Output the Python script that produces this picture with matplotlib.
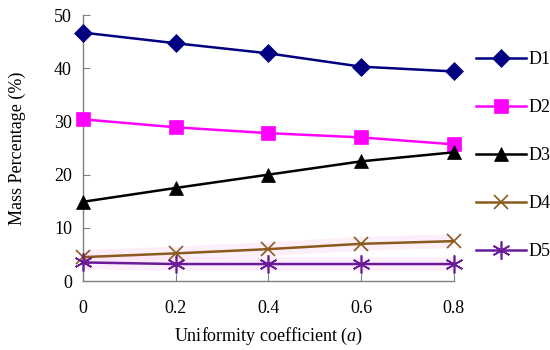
import matplotlib
matplotlib.use("Agg")
import matplotlib.pyplot as plt

x = [0, 0.2, 0.4, 0.6, 0.8]
d1 = [46.7, 44.7, 42.8, 40.3, 39.4]
d2 = [30.4, 28.9, 27.8, 27.0, 25.7]
d3 = [14.9, 17.5, 20.0, 22.5, 24.2]
d4 = [4.5, 5.2, 6.0, 7.0, 7.5]
d5 = [3.5, 3.2, 3.2, 3.2, 3.2]
labels = ["D1", "D2", "D3", "D4", "D5"]
xticks = [0, 0.2, 0.4, 0.6, 0.8]
yticks = [0, 10, 20, 30, 40, 50]

plt.rcParams['font.family'] = ['Liberation Serif', 'DejaVu Serif']
plt.rcParams['mathtext.fontset'] = 'custom'
plt.rcParams['mathtext.rm'] = 'Liberation Serif'
plt.rcParams['mathtext.it'] = 'Liberation Serif:italic'
fig = plt.figure(figsize=(5.5, 3.5), dpi=100)
ax = fig.add_axes([0.151, 0.197, 0.674, 0.76])

# faint pink glow behind the lower lines
for s in (d4, d5):
    ax.plot(x, s, color='#fbe0f5', lw=10, alpha=0.5, solid_capstyle='butt', zorder=1)

styles = [
    (d1, '#000080', 'D', 9),
    (d2, '#ff00ff', 's', 10),
    (d3, '#000000', '^', 10),
    (d4, '#8b5a1e', 'x', 10),
    (d5, '#6a1b9a', (6, 2, 0), 13),
]
for (s, c, m, ms), lab in zip(styles, labels):
    thin = m == 'x' or isinstance(m, tuple)
    ax.plot(x, s, color=c, lw=1.8, marker=m, markersize=ms,
            markeredgewidth=1.2 if thin else 0.5,
            markeredgecolor=c, markerfacecolor=c, label=lab, clip_on=False, zorder=3)

ax.set_xlim(0, 0.8)
ax.set_ylim(0, 50)
ax.set_xticks(xticks)
ax.set_xticklabels(['0', '0.2', '0.4', '0.6', '0.8'])
ax.set_yticks(yticks)
for sp in ['top', 'right']:
    ax.spines[sp].set_visible(False)
for sp in ['left', 'bottom']:
    ax.spines[sp].set_color('#808080')
    ax.spines[sp].set_linewidth(1.0)
ax.tick_params(direction='in', length=5, color='#808080', labelsize=13)
ax.tick_params(axis='x', pad=14)
ax.tick_params(axis='y', pad=8)

ax.set_xlabel('Uniformity coefficient ($a$)', fontsize=13, labelpad=6)
ax.set_ylabel('Mass Percentage (%)', fontsize=13, labelpad=20)

leg = ax.legend(loc='upper left', bbox_to_anchor=(1.03, 0.905), frameon=False,
                fontsize=13, labelspacing=1.72, handlelength=2.8, handletextpad=0.1,
                borderaxespad=0.2)

fig.savefig('out.png', dpi=100)
